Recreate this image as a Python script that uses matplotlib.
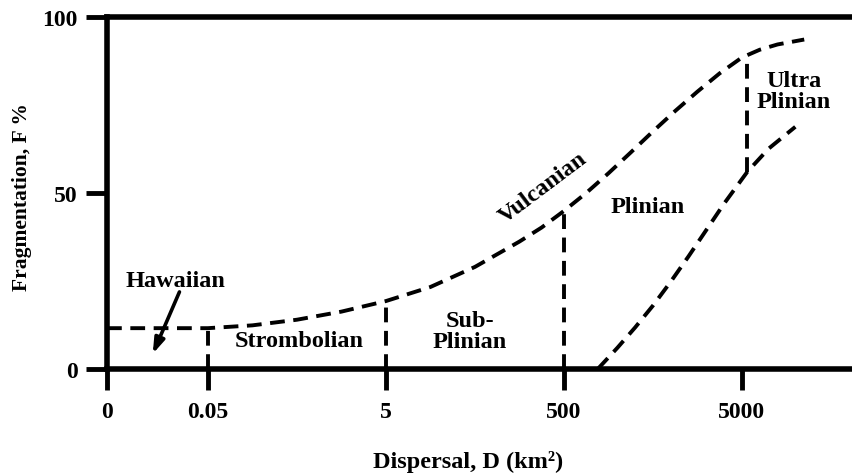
import matplotlib
matplotlib.use('Agg')
import matplotlib.pyplot as plt

plt.rcParams['font.family'] = ['Liberation Serif', 'DejaVu Serif']
plt.rcParams['font.weight'] = 'bold'

# Axis ticks (categorical, non-uniform dispersal positions)
x_tick_pos = [0.433, 1.0, 2.0, 3.0, 4.0]
x_tick_labels = ['0', '0.05', '5', '500', '5000']
y_ticks = [0, 50, 100]

# Upper boundary curve (position index, F %)
upper_x = [0.433, 1.0, 1.25, 1.5, 1.75, 2.0, 2.25, 2.5, 2.75, 2.875, 3.0, 3.125,
           3.25, 3.375, 3.5, 3.625, 3.75, 3.875, 4.0, 4.1, 4.2, 4.35]
upper_f = [11.6, 11.6, 12.4, 14.0, 16.3, 19.3, 23.3, 29.0, 36.2, 40.2, 44.9, 50.0,
           55.6, 61.5, 67.5, 73.3, 78.8, 84.0, 88.5, 90.7, 92.2, 93.6]

# Lower boundary curve
lower_x = [3.19, 3.3, 3.4, 3.5, 3.6, 3.7, 3.8, 3.9, 4.03, 4.15, 4.3]
lower_f = [0.0, 6.0, 11.8, 18.0, 24.8, 32.0, 39.5, 47.0, 56.0, 62.6, 68.8]

# Vertical class boundaries
bound_x = [1.0, 2.0, 3.0, 4.03]
bound_bottom = [0.0, 0.0, 0.0, 56.0]
bound_top = [11.6, 19.3, 44.9, 89.0]

# Class labels
label_text = ['Strombolian', 'Sub-\nPlinian', 'Vulcanian', 'Plinian', 'Ultra\nPlinian']
label_x = [1.51, 2.47, 2.88, 3.47, 4.29]
label_f = [8.0, 10.8, 51.5, 46.3, 79.0]
label_rot = [0, 0, 37, 0, 0]

hawaiian_text = 'Hawaiian'
hawaiian_label_xy = (0.815, 22.3)
hawaiian_xy = (0.69, 4.3)
hawaiian_text_xy = (0.84, 21.9)

W, H = 853, 477
fig = plt.figure(figsize=(W / 100, H / 100), dpi=100)
ax = fig.add_axes([107 / W, 1 - 370 / H, 1 - 107 / W, (370 - 18) / H])

ax.set_xlim(0.433, 4.624)
ax.set_ylim(0, 100)

dash = dict(color='black', lw=2.8, dashes=(3.8, 2.2))
ax.plot(upper_x, upper_f, **dash)
ax.plot(lower_x, lower_f, **dash)
for bx, b0, b1 in zip(bound_x, bound_bottom, bound_top):
    ax.plot([bx, bx], [b0, b1], **dash)

fs = 17.5
for t, x, y, r in zip(label_text, label_x, label_f, label_rot):
    ax.text(x, y, t, ha='center', va='center', rotation=r, fontsize=fs,
            fontweight='bold', linespacing=1.0, rotation_mode='anchor')

ax.text(hawaiian_label_xy[0], hawaiian_label_xy[1], hawaiian_text, ha='center',
        va='bottom', fontsize=fs, fontweight='bold')
ax.annotate('', xy=hawaiian_xy, xytext=hawaiian_text_xy,
            arrowprops=dict(arrowstyle='-|>,head_length=0.9,head_width=0.3',
                            color='black', lw=2.6, shrinkA=0, shrinkB=0))

for s in ['left', 'top', 'bottom']:
    ax.spines[s].set_linewidth(4)
ax.spines['right'].set_visible(False)

ax.set_xticks(x_tick_pos)
ax.set_xticklabels(x_tick_labels)
ax.set_yticks(y_ticks)
ax.tick_params(axis='both', direction='out', length=15, width=3.5,
               labelsize=17, pad=6)
ax.tick_params(axis='x', pad=8)
for lab in ax.get_xticklabels() + ax.get_yticklabels():
    lab.set_fontweight('bold')

fig.text(468 / W, 1 - 462 / H, 'Dispersal, D (km\u00b2)', ha='center',
         va='center', fontsize=17.5, fontweight='bold')
fig.text(22 / W, 1 - 197 / H, 'Fragmentation, F %', ha='center', va='center',
         rotation=90, fontsize=15.5, fontweight='bold')

fig.savefig('out.png', dpi=100)
